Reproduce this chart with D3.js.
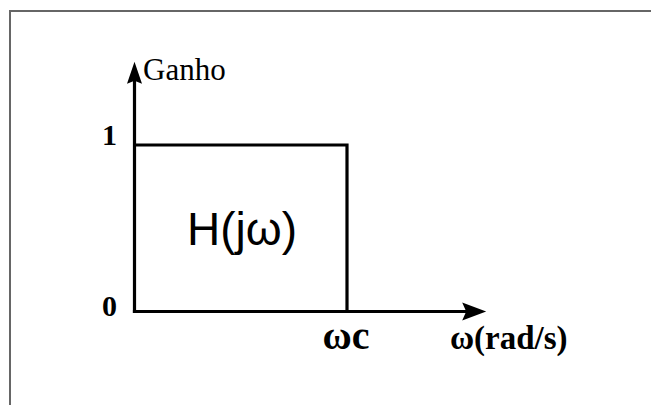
<!DOCTYPE html>
<html>
<head>
<meta charset="utf-8">
<script src="https://cdn.jsdelivr.net/npm/d3@7"></script>
<style>
  body { margin: 0; background: #fff; overflow: hidden; }
  svg { display: block; }
</style>
</head>
<body>
<svg id="chart"></svg>
<script>
// ideal low-pass filter, frequency in units of wc
const omega = [0, 1, 1];
const gain = [1, 1, 0];
const yTicks = [0, 1];
const yTickLabels = ["0", "1"];
const xTicks = [1];
const xTickLabels = ["ωc"];
const xAxisTitle = "ω(rad/s)";
const yAxisTitle = "Ganho";
const curveLabel = "H(jω)";

const width = 651, height = 405;
const svg = d3.select('#chart')
  .attr('width', width)
  .attr('height', height);

// frame, only top and left edges are inside the window
svg.append('path')
  .attr('d', `M10,${height} L10,11 L${width},11`)
  .attr('fill', 'none')
  .attr('stroke', '#666')
  .attr('stroke-width', 2);

const xScale = d3.scaleLinear().domain([0, 1]).range([134.5, 347]);
const yScale = d3.scaleLinear().domain([0, 1]).range([311.5, 145]);

const xMax = 1.655, yMax = 1.5;
const lineW = 3.2;

// axes
svg.append('line')
  .attr('x1', xScale(0)).attr('y1', yScale(0) + lineW / 2)
  .attr('x2', xScale(0)).attr('y2', yScale(yMax) + 15)
  .attr('stroke', '#000').attr('stroke-width', lineW);
svg.append('line')
  .attr('x1', xScale(0) - lineW / 2).attr('y1', yScale(0))
  .attr('x2', xScale(xMax) - 15).attr('y2', yScale(0))
  .attr('stroke', '#000').attr('stroke-width', lineW);

// arrow heads
const ax = xScale(0), ay = yScale(yMax);
svg.append('path')
  .attr('d', `M${ax},${ay} L${ax - 7.5},${ay + 22} L${ax},${ay + 19} L${ax + 7.5},${ay + 22} Z`)
  .attr('fill', '#000');
const bx = xScale(xMax), by = yScale(0);
svg.append('path')
  .attr('d', `M${bx},${by} L${bx - 24},${by - 9} L${bx - 20},${by} L${bx - 24},${by + 9} Z`)
  .attr('fill', '#000');

// response
const line = d3.line()
  .x((d, i) => xScale(omega[i]))
  .y(d => yScale(d));
svg.append('path')
  .datum(gain)
  .attr('d', line)
  .attr('fill', 'none')
  .attr('stroke', '#000')
  .attr('stroke-width', lineW)
  .attr('stroke-linejoin', 'miter');

// y tick labels
svg.selectAll('.y-tick')
  .data(yTicks)
  .join('text')
  .attr('class', 'y-tick')
  .attr('x', 109.5)
  .attr('y', d => yScale(d) + (d === 0 ? 4 : 0))
  .attr('text-anchor', 'middle')
  .style('font-family', '"Liberation Serif", serif')
  .style('font-weight', 'bold')
  .style('font-size', '30px')
  .text((d, i) => yTickLabels[i]);

// x tick labels
svg.selectAll('.x-tick')
  .data(xTicks)
  .join('text')
  .attr('class', 'x-tick')
  .attr('x', d => xScale(d) - 1)
  .attr('y', 349)
  .attr('text-anchor', 'middle')
  .style('font-family', '"Liberation Serif", serif')
  .style('font-weight', 'bold')
  .style('font-size', '40px')
  .text((d, i) => xTickLabels[i]);

// axis titles
svg.append('text')
  .attr('x', 450).attr('y', 349)
  .style('font-family', '"Liberation Serif", serif')
  .style('font-weight', 'bold')
  .style('font-size', '33px')
  .text(xAxisTitle);

svg.append('text')
  .attr('x', 143).attr('y', 80)
  .style('font-family', '"Liberation Serif", serif')
  .style('font-size', '31px')
  .text(yAxisTitle);

// curve label
svg.append('text')
  .attr('x', 187).attr('y', 245)
  .style('font-family', '"Liberation Sans", Arial, sans-serif')
  .style('font-size', '46px')
  .text(curveLabel);
</script>
</body>
</html>
